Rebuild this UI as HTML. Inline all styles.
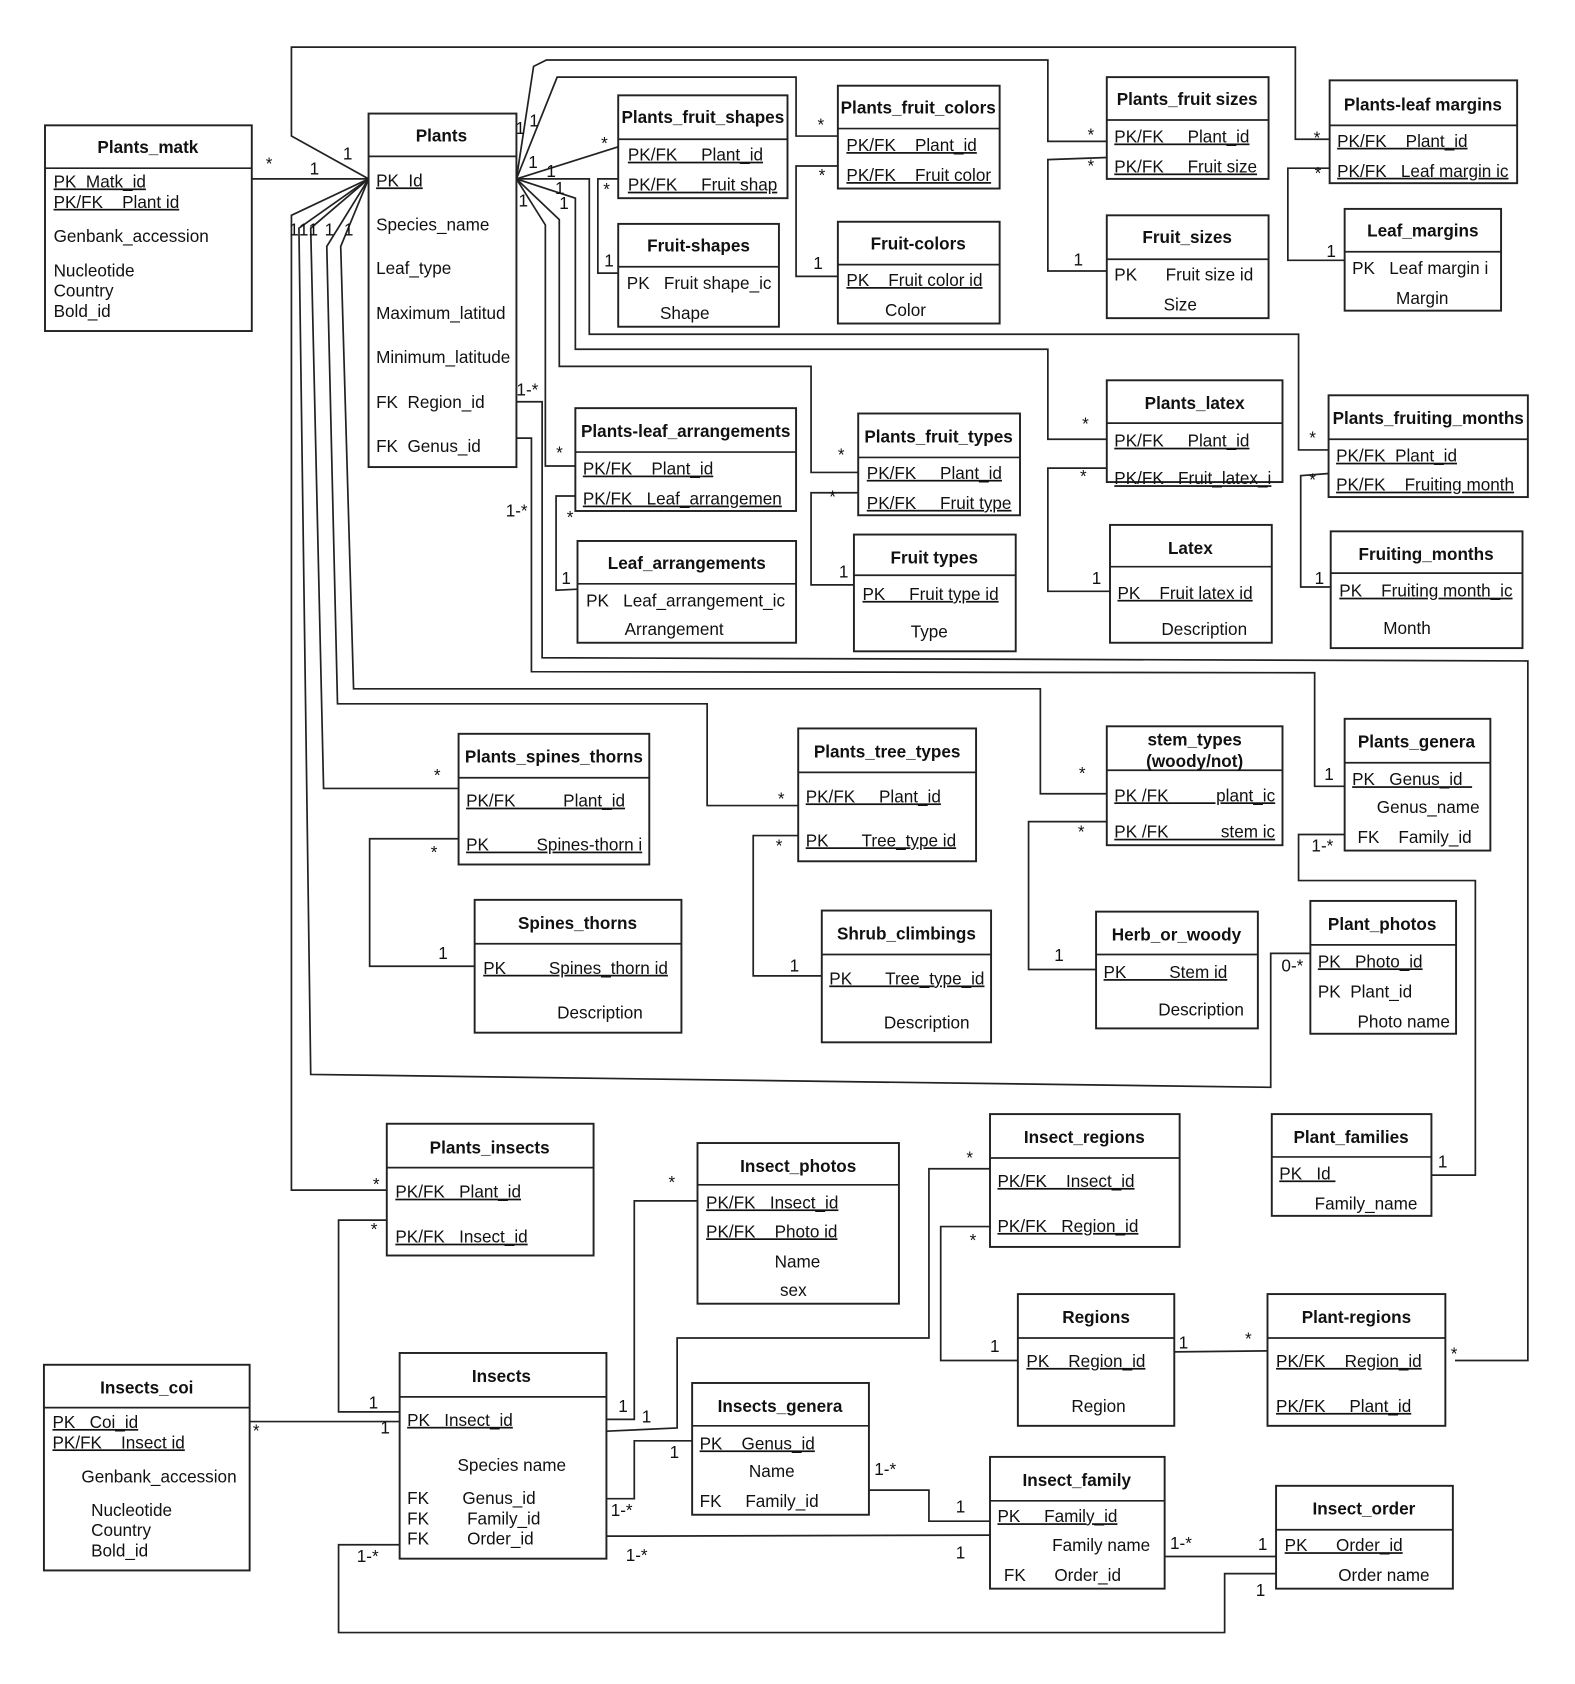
<!DOCTYPE html>
<html><head><meta charset="utf-8"><style>
html,body{margin:0;padding:0;background:#fff}
svg{display:block}
text{font-family:"Liberation Sans",Arial,sans-serif;font-size:16px;fill:#111;white-space:pre}
.t{font-weight:bold;text-anchor:middle}
.u{text-decoration:underline}
.l{font-size:15px}
rect{fill:none;stroke:#222;stroke-width:1.8}
line,polyline{fill:none;stroke:#222;stroke-width:1.6}
</style></head><body>
<svg width="1575" height="1684" viewBox="0 0 1470 1572" preserveAspectRatio="none" xmlns="http://www.w3.org/2000/svg" xml:space="preserve">
<polyline points="235,167 344,167"/>
<polyline points="344,167 272,127 272,44 1209,44 1209,130 1241,130"/>
<polyline points="482,167 498,62 510,56 978,56 978,132 1033,132"/>
<polyline points="482,167 520,72 743,72 743,127 782,127"/>
<polyline points="482,167 577,137"/>
<polyline points="577,167 558,167 558,255 577,255"/>
<polyline points="482,167 550,167 550,312 1212,312 1212,420 1240,420"/>
<polyline points="482,167 537,185 537,326 978,326 978,410 1033,410"/>
<polyline points="482,167 522,205 522,342 757,342 757,441 801,441"/>
<polyline points="482,167 509,210 509,435 537,435"/>
<polyline points="782,155 743,155 743,258 782,258"/>
<polyline points="1033,147 978,149 978,253 1033,253"/>
<polyline points="1241,157 1202,157 1202,243 1255,243"/>
<polyline points="537,463 519,463 519,551 539,550"/>
<polyline points="801,460 757,460 757,546 797,546"/>
<polyline points="1033,437 978,437 978,552 1036,552"/>
<polyline points="1240,442 1214,444 1214,548 1242,548"/>
<polyline points="482,375 506,375 506,614 1426,617 1426,1270 1358,1270"/>
<polyline points="482,409 496,409 496,627 1227,628 1227,734 1255,734"/>
<polyline points="344,167 272,201 272,1111 361,1111"/>
<polyline points="344,167 279,213 290,1003 1186,1015 1186,890 1223,890"/>
<polyline points="344,167 290,213 302,736 428,736"/>
<polyline points="344,167 305,230 315,657 660,657 660,752 745,752"/>
<polyline points="344,167 318,230 330,643 971,643 971,741 1033,741"/>
<polyline points="428,783 345,783 345,902 443,902"/>
<polyline points="745,780 703,780 703,911 767,911"/>
<polyline points="1033,767 960,767 960,905 1023,905"/>
<polyline points="1255,779 1212,779 1212,822 1377,822 1377,1097 1336,1097"/>
<polyline points="361,1139 316,1139 316,1318 373,1318"/>
<polyline points="233,1327 373,1327"/>
<polyline points="566,1325 592,1325 592,1121 651,1121"/>
<polyline points="566,1336 632,1333 632,1249 867,1249 867,1091 924,1091"/>
<polyline points="924,1145 878,1145 878,1270 950,1270"/>
<polyline points="1096,1262 1183,1261"/>
<polyline points="566,1399 592,1399 592,1345 646,1345"/>
<polyline points="811,1391 867,1391 867,1420 924,1420"/>
<polyline points="566,1434 924,1433"/>
<polyline points="1087,1453 1191,1453"/>
<polyline points="373,1442 316,1442 316,1524 1143,1524 1143,1469 1191,1469"/>

<g class="l">
<text x="248" y="158">*</text><text x="289" y="163">1</text>
<text x="320" y="149">1</text><text x="1226" y="134">*</text>
<text x="481" y="125">1</text><text x="494" y="118">1</text>
<text x="763" y="122">*</text><text x="1015" y="131">*</text>
<text x="561" y="139">*</text><text x="493" y="157">1</text>
<text x="510" y="165">1</text><text x="518" y="181">1</text><text x="484" y="193">1</text><text x="522" y="195">1</text>
<text x="563" y="182">*</text><text x="564" y="249">1</text>
<text x="764" y="169">*</text><text x="759" y="251">1</text>
<text x="1015" y="160">*</text><text x="1002" y="248">1</text>
<text x="1227" y="167">*</text><text x="1238" y="240">1</text>
<text x="519" y="428">*</text><text x="529" y="488">*</text><text x="524" y="545">1</text>
<text x="782" y="430">*</text><text x="774" y="469">*</text><text x="783" y="539">1</text>
<text x="1010" y="401">*</text><text x="1008" y="450">*</text><text x="1019" y="545">1</text>
<text x="1222" y="414">*</text><text x="1222" y="453">*</text><text x="1227" y="545">1</text>
<text x="482" y="369">1-*</text><text x="472" y="482">1-*</text>
<text x="270" y="220">1</text><text x="279" y="220">1</text><text x="288" y="220">1</text><text x="303" y="220">1</text><text x="321" y="220">1</text>
<text x="405" y="729">*</text><text x="402" y="801">*</text><text x="409" y="895">1</text>
<text x="726" y="751">*</text><text x="724" y="795">*</text><text x="737" y="907">1</text>
<text x="1007" y="727">*</text><text x="1006" y="782">*</text><text x="984" y="897">1</text>
<text x="1236" y="728">1</text><text x="1224" y="795">1-*</text>
<text x="1196" y="907">0-*</text><text x="1342" y="1090">1</text>
<text x="348" y="1111">*</text><text x="346" y="1153">*</text><text x="344" y="1315">1</text>
<text x="236" y="1341">*</text><text x="355" y="1338">1</text>
<text x="577" y="1318">1</text><text x="624" y="1109">*</text>
<text x="599" y="1328">1</text><text x="902" y="1086">*</text>
<text x="905" y="1163">*</text><text x="924" y="1262">1</text>
<text x="1100" y="1259">1</text><text x="1162" y="1255">*</text><text x="1354" y="1269">*</text>
<text x="570" y="1415">1-*</text><text x="625" y="1361">1</text>
<text x="816" y="1377">1-*</text><text x="892" y="1412">1</text>
<text x="584" y="1457">1-*</text><text x="892" y="1455">1</text>
<text x="1092" y="1446">1-*</text><text x="1174" y="1447">1</text>
<text x="333" y="1458">1-*</text><text x="1172" y="1490">1</text>
</g>

<g fill="#fff">
<rect x="42" y="117" width="193" height="192"/><line x1="42" y1="157" x2="235" y2="157"/>
<text class="t" x="138" y="143">Plants_matk</text>
<text class="u" x="50" y="175">PK  Matk_id</text>
<text class="u" x="50" y="194">PK/FK    Plant id</text>
<text x="50" y="226">Genbank_accession</text>
<text x="50" y="258">Nucleotide</text><text x="50" y="277">Country</text><text x="50" y="296">Bold_id</text>

<rect x="344" y="106" width="138" height="330"/><line x1="344" y1="146" x2="482" y2="146"/>
<text class="t" x="412" y="132">Plants</text>
<text class="u" x="351" y="174">PK  Id</text>
<text x="351" y="215">Species_name</text>
<text x="351" y="256">Leaf_type</text>
<text x="351" y="298">Maximum_latitud</text>
<text x="351" y="339">Minimum_latitude</text>
<text x="351" y="381">FK  Region_id</text>
<text x="351" y="422">FK  Genus_id</text>

<rect x="577" y="89" width="158" height="96"/><line x1="577" y1="130" x2="735" y2="130"/>
<text class="t" x="656" y="115">Plants_fruit_shapes</text>
<text class="u" x="586" y="150">PK/FK     Plant_id</text>
<text class="u" x="586" y="178">PK/FK     Fruit shap</text>

<rect x="577" y="209" width="150" height="96"/><line x1="577" y1="249" x2="727" y2="249"/>
<text class="t" x="652" y="235">Fruit-shapes</text>
<text x="585" y="270">PK   Fruit shape_ic</text>
<text x="616" y="298">Shape</text>

<rect x="782" y="80" width="151" height="96"/><line x1="782" y1="120" x2="933" y2="120"/>
<text class="t" x="857" y="106">Plants_fruit_colors</text>
<text class="u" x="790" y="141">PK/FK    Plant_id</text>
<text class="u" x="790" y="169">PK/FK    Fruit color</text>

<rect x="782" y="207" width="151" height="95"/><line x1="782" y1="247" x2="933" y2="247"/>
<text class="t" x="857" y="233">Fruit-colors</text>
<text class="u" x="790" y="267">PK    Fruit color id</text>
<text x="826" y="295">Color</text>

<rect x="1033" y="72" width="151" height="95"/><line x1="1033" y1="112" x2="1184" y2="112"/>
<text class="t" x="1108" y="98">Plants_fruit sizes</text>
<text class="u" x="1040" y="133">PK/FK     Plant_id</text>
<text class="u" x="1040" y="161">PK/FK     Fruit size</text>

<rect x="1033" y="201" width="151" height="96"/><line x1="1033" y1="242" x2="1184" y2="242"/>
<text class="t" x="1108" y="227">Fruit_sizes</text>
<text x="1040" y="262">PK      Fruit size id</text>
<text x="1086" y="290">Size</text>

<rect x="1241" y="75" width="175" height="96"/><line x1="1241" y1="117" x2="1416" y2="117"/>
<text class="t" x="1328" y="103">Plants-leaf margins</text>
<text class="u" x="1248" y="137">PK/FK    Plant_id</text>
<text class="u" x="1248" y="165">PK/FK   Leaf margin ic</text>

<rect x="1255" y="195" width="146" height="95"/><line x1="1255" y1="235" x2="1401" y2="235"/>
<text class="t" x="1328" y="221">Leaf_margins</text>
<text x="1262" y="256">PK   Leaf margin i</text>
<text x="1303" y="284">Margin</text>

<rect x="537" y="381" width="206" height="96"/><line x1="537" y1="422" x2="743" y2="422"/>
<text class="t" x="640" y="408">Plants-leaf_arrangements</text>
<text class="u" x="544" y="443">PK/FK    Plant_id</text>
<text class="u" x="544" y="471">PK/FK   Leaf_arrangemen</text>

<rect x="539" y="505" width="204" height="95"/><line x1="539" y1="545" x2="743" y2="545"/>
<text class="t" x="641" y="531">Leaf_arrangements</text>
<text x="547" y="566">PK   Leaf_arrangement_ic</text>
<text x="583" y="593">Arrangement</text>

<rect x="801" y="386" width="151" height="95"/><line x1="801" y1="427" x2="952" y2="427"/>
<text class="t" x="876" y="413">Plants_fruit_types</text>
<text class="u" x="809" y="447">PK/FK     Plant_id</text>
<text class="u" x="809" y="475">PK/FK     Fruit type</text>

<rect x="797" y="499" width="151" height="109"/><line x1="797" y1="537" x2="948" y2="537"/>
<text class="t" x="872" y="526">Fruit types</text>
<text class="u" x="805" y="560">PK     Fruit type id</text>
<text x="850" y="595">Type</text>

<rect x="1033" y="355" width="164" height="95"/><line x1="1033" y1="395" x2="1197" y2="395"/>
<text class="t" x="1115" y="382">Plants_latex</text>
<text class="u" x="1040" y="417">PK/FK     Plant_id</text>
<text class="u" x="1040" y="452">PK/FK   Fruit_latex_i</text>

<rect x="1036" y="490" width="151" height="110"/><line x1="1036" y1="529" x2="1187" y2="529"/>
<text class="t" x="1111" y="517">Latex</text>
<text class="u" x="1043" y="559">PK    Fruit latex id</text>
<text x="1084" y="593">Description</text>

<rect x="1240" y="369" width="186" height="95"/><line x1="1240" y1="410" x2="1426" y2="410"/>
<text class="t" x="1333" y="396">Plants_fruiting_months</text>
<text class="u" x="1247" y="431">PK/FK  Plant_id</text>
<text class="u" x="1247" y="458">PK/FK    Fruiting month</text>

<rect x="1242" y="496" width="179" height="109"/><line x1="1242" y1="535" x2="1421" y2="535"/>
<text class="t" x="1331" y="523">Fruiting_months</text>
<text class="u" x="1250" y="557">PK    Fruiting month_ic</text>
<text x="1291" y="592">Month</text>

<rect x="428" y="685" width="178" height="122"/><line x1="428" y1="726" x2="606" y2="726"/>
<text class="t" x="517" y="712">Plants_spines_thorns</text>
<text class="u" x="435" y="753">PK/FK          Plant_id</text>
<text class="u" x="435" y="794">PK          Spines-thorn i</text>

<rect x="443" y="840" width="193" height="124"/><line x1="443" y1="881" x2="636" y2="881"/>
<text class="t" x="539" y="867">Spines_thorns</text>
<text class="u" x="451" y="909">PK         Spines_thorn id</text>
<text x="520" y="951">Description</text>

<rect x="745" y="680" width="166" height="124"/><line x1="745" y1="721" x2="911" y2="721"/>
<text class="t" x="828" y="707">Plants_tree_types</text>
<text class="u" x="752" y="749">PK/FK     Plant_id</text>
<text class="u" x="752" y="790">PK       Tree_type id</text>

<rect x="767" y="850" width="158" height="123"/><line x1="767" y1="891" x2="925" y2="891"/>
<text class="t" x="846" y="877">Shrub_climbings</text>
<text class="u" x="774" y="919">PK       Tree_type_id</text>
<text x="825" y="960">Description</text>

<rect x="1033" y="678" width="164" height="111"/><line x1="1033" y1="719" x2="1197" y2="719"/>
<text class="t" x="1115" y="696">stem_types</text>
<text class="t" x="1115" y="716">(woody/not)</text>
<text class="u" x="1040" y="748">PK /FK          plant_ic</text>
<text class="u" x="1040" y="782">PK /FK           stem ic</text>

<rect x="1023" y="851" width="151" height="109"/><line x1="1023" y1="891" x2="1174" y2="891"/>
<text class="t" x="1098" y="878">Herb_or_woody</text>
<text class="u" x="1030" y="913">PK         Stem id</text>
<text x="1081" y="948">Description</text>

<rect x="1255" y="671" width="136" height="123"/><line x1="1255" y1="712" x2="1391" y2="712"/>
<text class="t" x="1322" y="698">Plants_genera</text>
<text class="u" x="1262" y="733">PK   Genus_id  </text>
<text x="1285" y="759">Genus_name</text>
<text x="1267" y="787">FK    Family_id</text>

<rect x="1223" y="841" width="136" height="124"/><line x1="1223" y1="882" x2="1359" y2="882"/>
<text class="t" x="1290" y="868">Plant_photos</text>
<text class="u" x="1230" y="903">PK   Photo_id</text>
<text x="1230" y="931">PK  Plant_id</text>
<text x="1267" y="959">Photo name</text>

<rect x="1187" y="1040" width="149" height="95"/><line x1="1187" y1="1080" x2="1336" y2="1080"/>
<text class="t" x="1261" y="1067">Plant_families</text>
<text class="u" x="1194" y="1101">PK   Id </text>
<text x="1227" y="1129">Family_name</text>

<rect x="361" y="1049" width="193" height="123"/><line x1="361" y1="1090" x2="554" y2="1090"/>
<text class="t" x="457" y="1077">Plants_insects</text>
<text class="u" x="369" y="1118">PK/FK   Plant_id</text>
<text class="u" x="369" y="1160">PK/FK   Insect_id</text>

<rect x="651" y="1067" width="188" height="150"/><line x1="651" y1="1106" x2="839" y2="1106"/>
<text class="t" x="745" y="1094">Insect_photos</text>
<text class="u" x="659" y="1128">PK/FK   Insect_id</text>
<text class="u" x="659" y="1155">PK/FK    Photo id</text>
<text x="723" y="1183">Name</text>
<text x="728" y="1210">sex</text>

<rect x="924" y="1040" width="177" height="124"/><line x1="924" y1="1081" x2="1101" y2="1081"/>
<text class="t" x="1012" y="1067">Insect_regions</text>
<text class="u" x="931" y="1108">PK/FK    Insect_id</text>
<text class="u" x="931" y="1150">PK/FK   Region_id</text>

<rect x="950" y="1208" width="146" height="123"/><line x1="950" y1="1249" x2="1096" y2="1249"/>
<text class="t" x="1023" y="1235">Regions</text>
<text class="u" x="958" y="1276">PK    Region_id</text>
<text x="1000" y="1318">Region</text>

<rect x="1183" y="1208" width="166" height="123"/><line x1="1183" y1="1249" x2="1349" y2="1249"/>
<text class="t" x="1266" y="1235">Plant-regions</text>
<text class="u" x="1191" y="1276">PK/FK    Region_id</text>
<text class="u" x="1191" y="1318">PK/FK     Plant_id</text>

<rect x="41" y="1274" width="192" height="192"/><line x1="41" y1="1314" x2="233" y2="1314"/>
<text class="t" x="137" y="1301">Insects_coi</text>
<text class="u" x="49" y="1333">PK   Coi_id</text>
<text class="u" x="49" y="1352">PK/FK    Insect id</text>
<text x="76" y="1384">Genbank_accession</text>
<text x="85" y="1415">Nucleotide</text><text x="85" y="1434">Country</text><text x="85" y="1453">Bold_id</text>

<rect x="373" y="1263" width="193" height="192"/><line x1="373" y1="1304" x2="566" y2="1304"/>
<text class="t" x="468" y="1290">Insects</text>
<text class="u" x="380" y="1331">PK   Insect_id</text>
<text x="427" y="1373">Species name</text>
<text x="380" y="1404">FK       Genus_id</text>
<text x="380" y="1423">FK        Family_id</text>
<text x="380" y="1442">FK        Order_id</text>

<rect x="646" y="1291" width="165" height="123"/><line x1="646" y1="1331" x2="811" y2="1331"/>
<text class="t" x="728" y="1318">Insects_genera</text>
<text class="u" x="653" y="1353">PK    Genus_id</text>
<text x="699" y="1379">Name</text>
<text x="653" y="1407">FK     Family_id</text>

<rect x="924" y="1360" width="163" height="123"/><line x1="924" y1="1401" x2="1087" y2="1401"/>
<text class="t" x="1005" y="1387">Insect_family</text>
<text class="u" x="931" y="1421">PK     Family_id</text>
<text x="982" y="1448">Family name</text>
<text x="937" y="1476">FK      Order_id</text>

<rect x="1191" y="1387" width="165" height="96"/><line x1="1191" y1="1428" x2="1356" y2="1428"/>
<text class="t" x="1273" y="1414">Insect_order</text>
<text class="u" x="1199" y="1448">PK      Order_id</text>
<text x="1249" y="1476">Order name</text>
</g>
</svg>
</body></html>
